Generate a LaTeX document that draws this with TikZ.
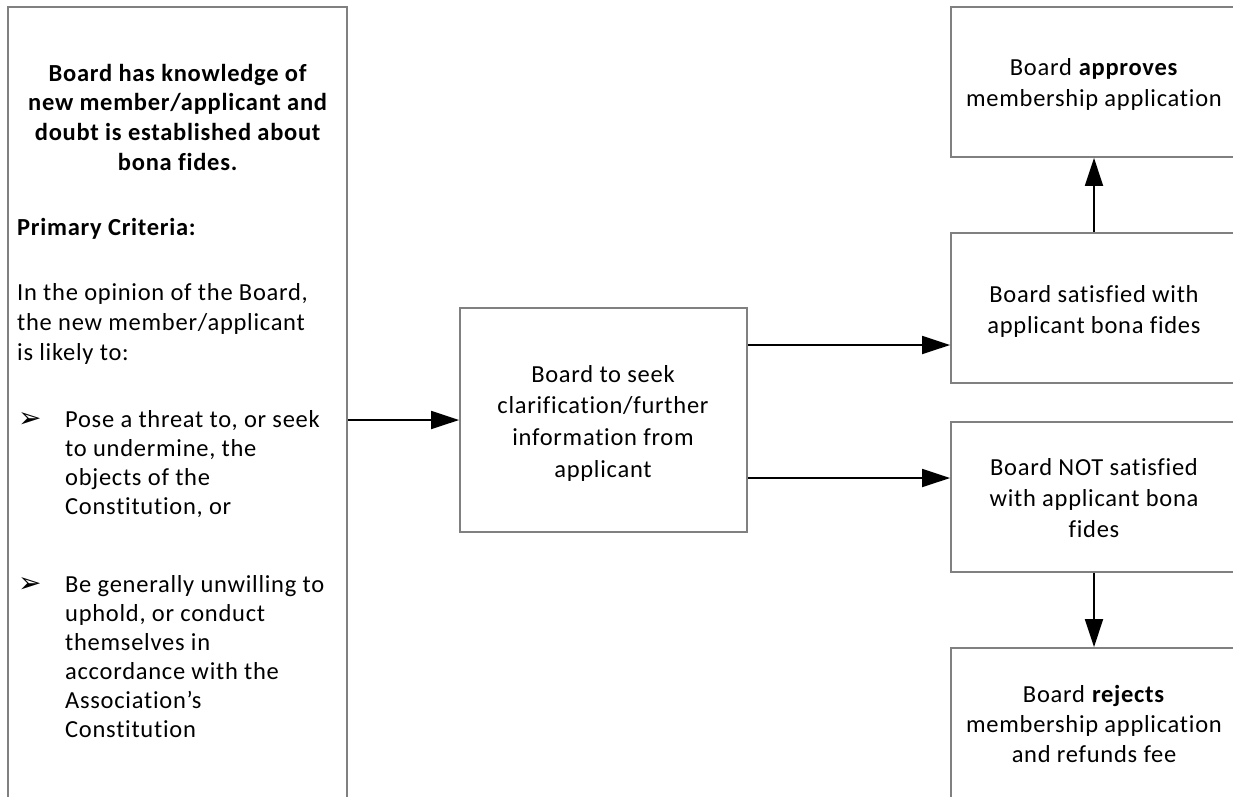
\documentclass[tikz,border=0pt]{standalone}
\usepackage{fontspec}
\setmainfont{Carlito}[LetterSpace=3,Ligatures={NoCommon}]
\newfontfamily\dejavu{DejaVu Sans}
\usetikzlibrary{arrows.meta}
\definecolor{boxgray}{RGB}{128,128,128}
\begin{document}
\begin{tikzpicture}[x=1pt,y=-1pt,
  box/.style={draw=boxgray,line width=1.8pt,rectangle,inner sep=0pt},
  arr/.style={draw=black,line width=1.8pt,-{Triangle[length=28pt,width=18pt]}},
  ctr/.style={anchor=base,inner sep=0pt,font=\fontsize{24.5}{30}\selectfont},
  lft/.style={anchor=base west,inner sep=0pt,font=\fontsize{24.5}{30}\selectfont},
  bul/.style={anchor=base west,inner sep=0pt,font=\dejavu\fontsize{28}{30}\selectfont},
]
\useasboundingbox (0,0) rectangle (1233,796);
\begin{scope}
\clip (0,0) rectangle (1233,796);
% boxes
\node[box,minimum width=339pt,minimum height=826pt] (left) at (177.5,420) {};
\node[box,minimum width=287pt,minimum height=224pt] (mid) at (603.5,420) {};
\node[box,minimum width=286pt,minimum height=150pt] (appr) at (1094,82) {};
\node[box,minimum width=286pt,minimum height=150pt] (sat) at (1094,308) {};
\node[box,minimum width=286pt,minimum height=150pt] (nsat) at (1094,497) {};
\node[box,minimum width=286pt,minimum height=150pt] (rej) at (1094,723) {};
\end{scope}
% connectors
\coordinate (m1) at (747,345);
\coordinate (m2) at (747,478);
\draw[arr] (left.east) -- (mid.west);
\draw[arr] (mid.east |- m1) -- (sat.west |- m1);
\draw[arr] (mid.east |- m2) -- (nsat.west |- m2);
\draw[arr] (sat.north) -- (appr.south);
\draw[arr] (nsat.south) -- (rej.north);
% left box text
\node[ctr] (l1) at (178,81) {\textbf{Board has knowledge of}};
\node[ctr] (l2) at (178,110) {\textbf{new member/applicant and}};
\node[ctr] (l3) at (178,140) {\textbf{doubt is established about}};
\node[ctr] (l4) at (178,170) {\textbf{bona fides.}};
\node[lft] (l5) at (17,235) {\textbf{Primary Criteria:}};
\node[lft] (l6) at (17,300) {In the opinion of the Board,};
\node[lft] (l7) at (17,330) {the new member/applicant};
\node[lft] (l8) at (17,360) {is likely to:};
\node[bul] (b1) at (18,427) {➢};
\node[lft] (l9) at (65,427) {Pose a threat to, or seek};
\node[lft] (l10) at (65,456) {to undermine, the};
\node[lft] (l11) at (65,485) {objects of the};
\node[lft] (l12) at (65,514) {Constitution, or};
\node[bul] (b2) at (18,592) {➢};
\node[lft] (l13) at (65,592) {Be generally unwilling to};
\node[lft] (l14) at (65,621) {uphold, or conduct};
\node[lft] (l15) at (65,650) {themselves in};
\node[lft] (l16) at (65,679) {accordance with the};
\node[lft] (l17) at (65,708) {Association’s};
\node[lft] (l18) at (65,737) {Constitution};
% middle box text
\node[ctr] (m1t) at (603,382) {Board to seek};
\node[ctr] (m2t) at (603,413) {clarification/further};
\node[ctr] (m3t) at (603,445) {information from};
\node[ctr] (m4t) at (603,477) {applicant};
% right boxes text
\node[ctr] (a1) at (1094,75) {Board \textbf{approves}};
\node[ctr] (a2) at (1094,106) {membership application};
\node[ctr] (s1) at (1094,302) {Board satisfied with};
\node[ctr] (s2) at (1094,333) {applicant bona fides};
\node[ctr] (n1) at (1094,475) {Board NOT satisfied};
\node[ctr] (n2) at (1094,506) {with applicant bona};
\node[ctr] (n3) at (1094,537) {fides};
\node[ctr] (r1) at (1094,702) {Board \textbf{rejects}};
\node[ctr] (r2) at (1094,732) {membership application};
\node[ctr] (r3) at (1094,762) {and refunds fee};
\end{tikzpicture}
\end{document}
